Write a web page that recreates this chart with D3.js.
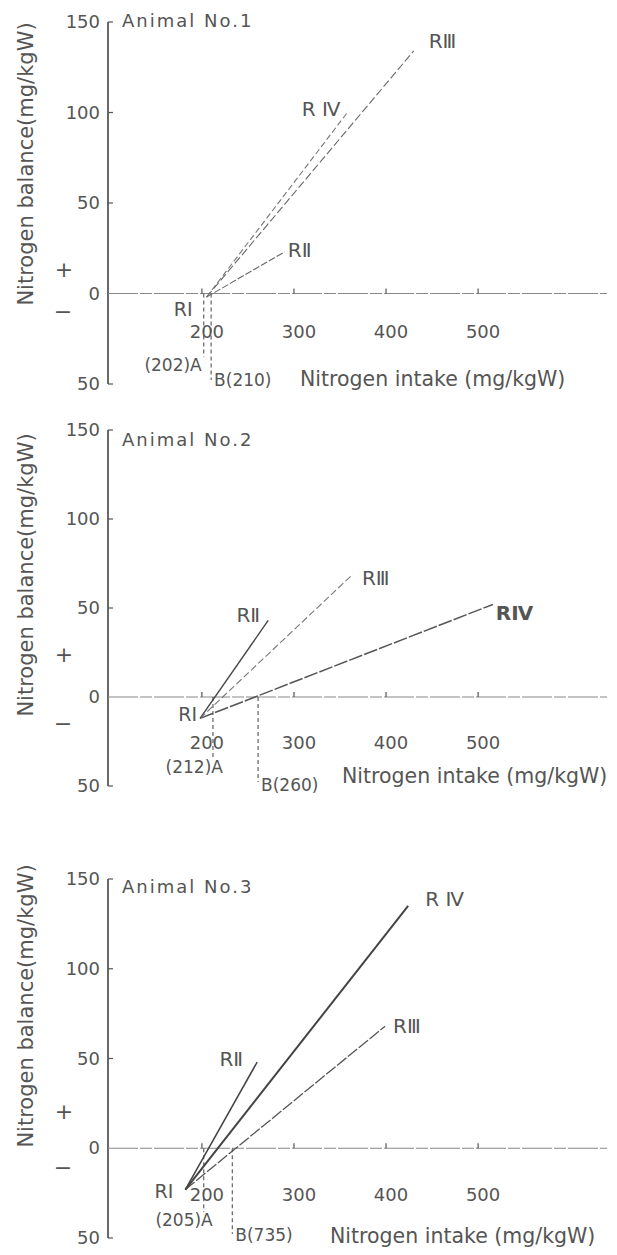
<!DOCTYPE html>
<html>
<head>
<meta charset="utf-8">
<script src="https://cdn.jsdelivr.net/npm/d3@7"></script>
<style>
  body { margin: 0; background: #fff; }
  svg { display: block; }
  text { font-family: "DejaVu Sans", sans-serif; fill: #555; }
</style>
</head>
<body>
<div class="chart"></div>
<script>
// Values
const animals = ['Animal No.1', 'Animal No.2', 'Animal No.3'];
const rations = ['RⅡ', 'RⅢ', 'R Ⅳ'];
// RI point, where every line starts
const riIntake = [205, 198, 182];
const riBalance = [-2, -12, -23];
// end of each line, order RII, RIII, RIV
const endIntake = [[290, 430, 358], [272, 364, 516], [260, 399, 424]];
const endBalance = [[23, 134, 100], [43, 69, 52], [48, 68, 135]];
// break points A and B
const pointA = [202, 212, 202];
const pointB = [210, 261, 233];
const labelA = ['(202)A', '(212)A', '(205)A'];
const labelB = ['B(210)', 'B(260)', 'B(735)'];
const xTicks = [200, 300, 400, 500];
const yTicks = [-50, 0, 50, 100, 150];
const yTickLabels = ['50', '0', '50', '100', '150'];

// Page layout for each panel (pixels)
const layout = [
    {yRange: [384, 22], titleY: 27, yTitleY: 164, tickY: 338, aY: 371, bY: 386, xTitleY: 386, xTitleX: 300,
     plusY: 277, minusY: 319, aDx: -2,
     riOff: [-14, 19], lab: [[3, 5, 'start'], [15, -3, 'start'], [-7, 3, 'end']]},
    {yRange: [786, 430], titleY: 446, yTitleY: 575, tickY: 749, aY: 773, bY: 791, xTitleY: 783, xTitleX: 342,
     plusY: 662, minusY: 731, aDx: 10,
     riOff: [-3, 3], lab: [[-8, 2, 'end'], [9, 11, 'start'], [3, 16, 'start']]},
    {yRange: [1238, 879], titleY: 893, yTitleY: 1006, tickY: 1201, aY: 1226, bY: 1241, xTitleY: 1243, xTitleX: 330,
     plusY: 1119, minusY: 1175, aDx: 9,
     riOff: [-12, 8], lab: [[-14, 4, 'end'], [8, 7, 'start'], [17, 0, 'start']]}
];

// Line looks, order RII, RIII, RIV
const lineStyle = [
    [{c: '#666', w: 1.1, d: '7,2'}, {c: '#666', w: 1.1, d: '8,3'}, {c: '#777', w: 1.1, d: '6,3'}],
    [{c: '#444', w: 1.4, d: null}, {c: '#777', w: 1.1, d: '7,3'}, {c: '#555', w: 1.5, d: '14,2'}],
    [{c: '#444', w: 1.5, d: null}, {c: '#555', w: 1.3, d: '12,2'}, {c: '#444', w: 2, d: null}]
];

const svg = d3.select('.chart')
    .append('svg')
        .attr('width', 617)
        .attr('height', 1255);

const x = d3.scaleLinear()
    .domain([98, 640])
    .range([108, 607]);

function drawPanel(i) {
    const L = layout[i];
    const y = d3.scaleLinear()
        .domain([-50, 150])
        .range(L.yRange);
    const g = svg.append('g');

    // y axis with inward ticks
    g.append('line')
        .attr('x1', x(98)).attr('x2', x(98))
        .attr('y1', y(-50)).attr('y2', y(150))
        .attr('stroke', '#444').attr('stroke-width', 1.6);
    g.selectAll('.ytick')
        .data(yTicks.filter(v => v !== 0))
        .enter()
            .append('line')
            .attr('x1', x(98)).attr('x2', x(98) + 5)
            .attr('y1', d => y(d)).attr('y2', d => y(d))
            .attr('stroke', '#555').attr('stroke-width', 1.2);
    g.selectAll('.ylab')
        .data(yTicks)
        .enter()
            .append('text')
            .attr('x', 100)
            .attr('y', d => y(d) + 6)
            .attr('text-anchor', 'end')
            .style('font-size', '18px')
            .text((d, k) => yTickLabels[k]);

    // x axis along zero balance
    g.append('line')
        .attr('x1', x(98)).attr('x2', x(640))
        .attr('y1', y(0)).attr('y2', y(0))
        .attr('stroke', '#888').attr('stroke-width', 1.2)
        .attr('stroke-dasharray', '30,2,12,2');
    g.selectAll('.xtick')
        .data(xTicks)
        .enter()
            .append('line')
            .attr('x1', d => x(d)).attr('x2', d => x(d))
            .attr('y1', y(0)).attr('y2', y(0) - 5)
            .attr('stroke', '#555').attr('stroke-width', 1.2);
    g.selectAll('.xlab')
        .data(xTicks)
        .enter()
            .append('text')
            .attr('x', d => x(d) + 5)
            .attr('y', L.tickY)
            .attr('text-anchor', 'middle')
            .style('font-size', '18px')
            .text(d => d);

    // dashed drops at A and B
    g.selectAll('.drop')
        .data([pointA[i], pointB[i]])
        .enter()
            .append('line')
            .attr('x1', d => x(d)).attr('x2', d => x(d))
            .attr('y1', y(0))
            .attr('y2', (d, k) => k === 0 ? L.aY - 14 : y(-50) - 4)
            .attr('stroke', '#555').attr('stroke-width', 1.1)
            .attr('stroke-dasharray', '4,3');
    g.append('text')
        .attr('x', x(pointA[i]) + L.aDx).attr('y', L.aY)
        .attr('text-anchor', 'end')
        .style('font-size', '17px')
        .text(labelA[i]);
    g.append('text')
        .attr('x', x(pointB[i]) + 3).attr('y', L.bY)
        .style('font-size', '17px')
        .text(labelB[i]);

    // response lines from RI
    const ends = endIntake[i].map((v, k) => ({n: rations[k], x: v, y: endBalance[i][k], s: lineStyle[i][k], o: L.lab[k]}));
    g.selectAll('.resp')
        .data(ends)
        .enter()
            .append('line')
            .attr('x1', x(riIntake[i])).attr('y1', y(riBalance[i]))
            .attr('x2', d => x(d.x)).attr('y2', d => y(d.y))
            .attr('stroke', d => d.s.c)
            .attr('stroke-width', d => d.s.w)
            .attr('stroke-dasharray', d => d.s.d);
    g.selectAll('.rlab')
        .data(ends)
        .enter()
            .append('text')
            .attr('x', d => x(d.x) + d.o[0])
            .attr('y', d => y(d.y) + d.o[1])
            .attr('text-anchor', d => d.o[2])
            .style('font-size', '20px')
            .style('font-weight', d => (i === 1 && d.n === 'R Ⅳ') ? 'bold' : null)
            .text(d => i === 1 && d.n === 'R Ⅳ' ? 'RⅣ' : d.n);
    g.append('text')
        .attr('x', x(riIntake[i]) + L.riOff[0])
        .attr('y', y(riBalance[i]) + L.riOff[1])
        .attr('text-anchor', 'end')
        .style('font-size', '19px')
        .text('RⅠ');

    // titles and signs
    g.append('text')
        .attr('x', 122).attr('y', L.titleY)
        .style('font-size', '18px')
        .style('letter-spacing', '2px')
        .text(animals[i]);
    g.append('text')
        .attr('transform', `translate(33, ${L.yTitleY}) rotate(-90)`)
        .attr('text-anchor', 'middle')
        .style('font-size', '21px')
        .text('Nitrogen balance(mg/kgW)');
    g.append('text')
        .attr('x', L.xTitleX).attr('y', L.xTitleY)
        .style('font-size', '20.5px')
        .text('Nitrogen intake (mg/kgW)');
    g.append('text')
        .attr('x', 64).attr('y', L.plusY)
        .attr('text-anchor', 'middle')
        .style('font-size', '22px')
        .text('+');
    g.append('text')
        .attr('x', 63).attr('y', L.minusY)
        .attr('text-anchor', 'middle')
        .style('font-size', '22px')
        .text('−');
}

animals.forEach((a, i) => drawPanel(i));
</script>
</body>
</html>
